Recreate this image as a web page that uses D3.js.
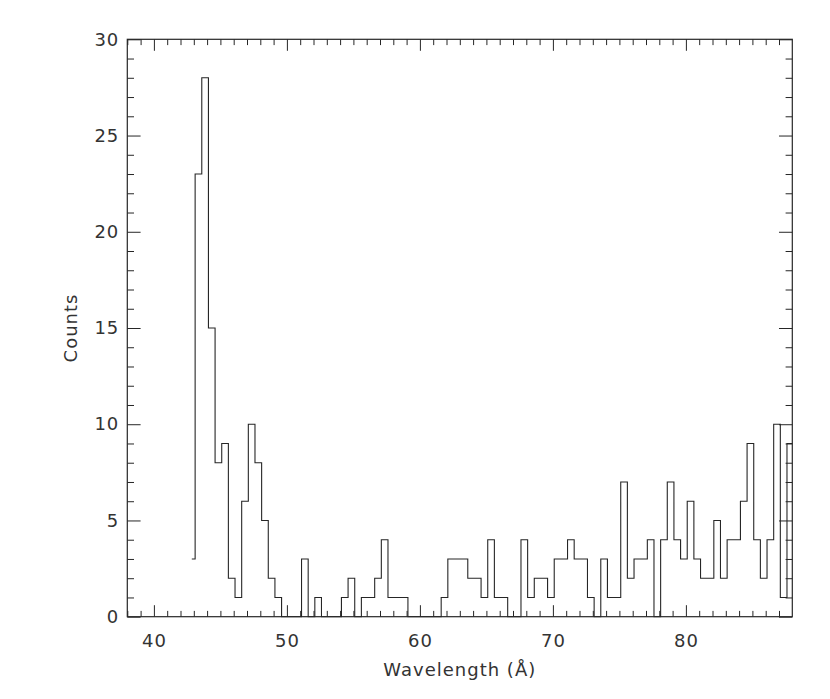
<!DOCTYPE html>
<html>
<head>
<meta charset="utf-8">
<script src="https://cdn.jsdelivr.net/npm/d3@7"></script>
<style>
  html, body { margin: 0; padding: 0; background: #fff; }
  svg { display: block; }
  text { font-family: "DejaVu Sans", sans-serif; }
</style>
</head>
<body>
<div id="chart"></div>
<script>
// ---- Data ----
const wavelength = [
  42.85, 43.35, 43.85, 44.35, 44.85, 45.35, 45.85, 46.35, 46.85, 47.35,
  47.85, 48.35, 48.85, 49.35, 49.85, 50.35, 50.85, 51.35, 51.85, 52.35,
  52.85, 53.35, 53.85, 54.35, 54.85, 55.35, 55.85, 56.35, 56.85, 57.35,
  57.85, 58.35, 58.85, 59.35, 59.85, 60.35, 60.85, 61.35, 61.85, 62.35,
  62.85, 63.35, 63.85, 64.35, 64.85, 65.35, 65.85, 66.35, 66.85, 67.35,
  67.85, 68.35, 68.85, 69.35, 69.85, 70.35, 70.85, 71.35, 71.85, 72.35,
  72.85, 73.35, 73.85, 74.35, 74.85, 75.35, 75.85, 76.35, 76.85, 77.35,
  77.85, 78.35, 78.85, 79.35, 79.85, 80.35, 80.85, 81.35, 81.85, 82.35,
  82.85, 83.35, 83.85, 84.35, 84.85, 85.35, 85.85, 86.35, 86.85, 87.35,
  87.85, 88.35
];
const counts = [
  3, 23, 28, 15, 8, 9, 2, 1, 6, 10,
  8, 5, 2, 1, 0, 0, 0, 3, 0, 1,
  0, 0, 0, 1, 2, 0, 1, 1, 2, 4,
  1, 1, 1, 0, 0, 0, 0, 0, 1, 3,
  3, 3, 2, 2, 1, 4, 1, 1, 0, 0,
  4, 1, 2, 2, 1, 3, 3, 4, 3, 3,
  1, 0, 3, 1, 1, 7, 2, 3, 3, 4,
  0, 4, 7, 4, 3, 6, 3, 2, 2, 5,
  2, 4, 4, 6, 9, 4, 2, 4, 10, 1,
  9, 5
];
const xDomain = [38, 88];
const yDomain = [0, 30];
const xMajorTicks = [40, 50, 60, 70, 80];
const xMinorTicks = [38, 39, 41, 42, 43, 44, 45, 46, 47, 48, 49, 51, 52, 53, 54, 55, 56, 57, 58, 59,
  61, 62, 63, 64, 65, 66, 67, 68, 69, 71, 72, 73, 74, 75, 76, 77, 78, 79, 81, 82, 83, 84, 85, 86, 87];
const yMajorTicks = [0, 5, 10, 15, 20, 25, 30];
const yMinorTicks = [1, 2, 3, 4, 6, 7, 8, 9, 11, 12, 13, 14, 16, 17, 18, 19, 21, 22, 23, 24, 26, 27, 28, 29];
const xTitle = "Wavelength (Å)";
const yTitle = "Counts";

(function () {
// ---- Layout ----
const W = 830, H = 699;
const pL = 127.3, pR = 792.3, pT = 39.3, pB = 616.7;
const lineColor = "#262626", textColor = "#333";
const fontSize = 18;

const svg = d3.select("#chart").append("svg").attr("width", W).attr("height", H);

const x = d3.scaleLinear().domain(xDomain).range([pL, pR]);
const y = d3.scaleLinear().domain(yDomain).range([pB, pT]);

svg.append("defs").append("clipPath").attr("id", "plotclip")
  .append("rect").attr("x", pL).attr("y", pT - 1).attr("width", pR - pL).attr("height", pB - pT + 2);

// Histogram (IDL psym=10 style step)
const data = wavelength.map((w, i) => ({ w, c: counts[i] }));
const line = d3.line().x(d => x(d.w)).y(d => y(d.c)).curve(d3.curveStep);
svg.append("path")
  .datum(data)
  .attr("clip-path", "url(#plotclip)")
  .attr("fill", "none")
  .attr("stroke", lineColor)
  .attr("stroke-width", 1.1)
  .attr("d", line);

// Axes
const xMajLen = 11.5, xMinLen = 5.8, yMajLen = 13.3, yMinLen = 6.7;

function styleAxis(g, labels) {
  g.select(".domain").remove();
  g.selectAll(".tick line").attr("stroke", lineColor).attr("stroke-width", 1);
  g.selectAll(".tick text")
    .attr("fill", textColor)
    .style("font-family", '"DejaVu Sans", sans-serif')
    .style("font-size", fontSize + "px")
    .style("letter-spacing", "1px");
  if (!labels) g.selectAll(".tick text").remove();
}

// bottom
svg.append("g").attr("transform", `translate(0,${pB})`)
  .call(d3.axisBottom(x).tickValues(xMajorTicks).tickSize(-xMajLen).tickPadding(18).tickFormat(d3.format("d")))
  .call(g => styleAxis(g, true));
svg.append("g").attr("transform", `translate(0,${pB})`)
  .call(d3.axisBottom(x).tickValues(xMinorTicks).tickSize(-xMinLen).tickFormat(""))
  .call(g => styleAxis(g, false));
// top
svg.append("g").attr("transform", `translate(0,${pT})`)
  .call(d3.axisTop(x).tickValues(xMajorTicks).tickSize(-xMajLen).tickFormat(""))
  .call(g => styleAxis(g, false));
svg.append("g").attr("transform", `translate(0,${pT})`)
  .call(d3.axisTop(x).tickValues(xMinorTicks).tickSize(-xMinLen).tickFormat(""))
  .call(g => styleAxis(g, false));
// left
svg.append("g").attr("transform", `translate(${pL},0)`)
  .call(d3.axisLeft(y).tickValues(yMajorTicks).tickSize(-yMajLen).tickPadding(8).tickFormat(d3.format("d")))
  .call(g => styleAxis(g, true));
svg.append("g").attr("transform", `translate(${pL},0)`)
  .call(d3.axisLeft(y).tickValues(yMinorTicks).tickSize(-yMinLen).tickFormat(""))
  .call(g => styleAxis(g, false));
// right
svg.append("g").attr("transform", `translate(${pR},0)`)
  .call(d3.axisRight(y).tickValues(yMajorTicks).tickSize(-yMajLen).tickFormat(""))
  .call(g => styleAxis(g, false));
svg.append("g").attr("transform", `translate(${pR},0)`)
  .call(d3.axisRight(y).tickValues(yMinorTicks).tickSize(-yMinLen).tickFormat(""))
  .call(g => styleAxis(g, false));

// frame
svg.append("rect")
  .attr("x", pL).attr("y", pT)
  .attr("width", pR - pL).attr("height", pB - pT)
  .attr("fill", "none").attr("stroke", lineColor).attr("stroke-width", 1.2);

// titles
svg.append("text")
  .attr("x", (pL + pR) / 2).attr("y", 676)
  .attr("text-anchor", "middle")
  .attr("fill", textColor)
  .style("font-size", fontSize + "px")
  .style("letter-spacing", "1px")
  .text(xTitle);

svg.append("text")
  .attr("transform", `translate(77,${(pT + pB) / 2}) rotate(-90)`)
  .attr("text-anchor", "middle")
  .attr("fill", textColor)
  .style("font-size", fontSize + "px")
  .style("letter-spacing", "1px")
  .text(yTitle);
})();
</script>
</body>
</html>
